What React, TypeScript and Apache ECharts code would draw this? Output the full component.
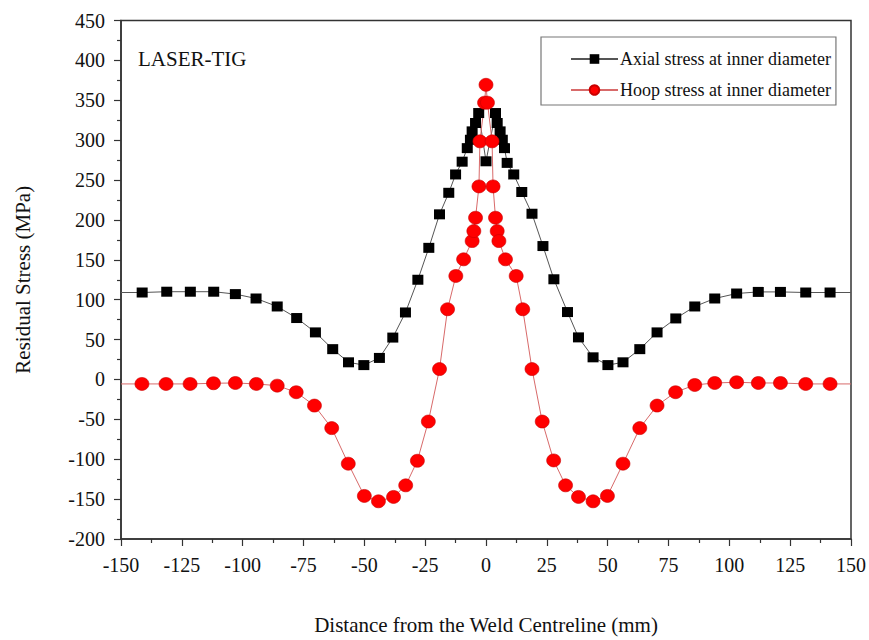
import React, { useEffect, useRef } from "react";
import * as echarts from "echarts";

const axialX = [-150, -141.3, -131.2, -121.5, -111.9, -103, -94.5, -85.8, -77.8, -70.1, -63, -56.5, -50.2, -43.8, -38.3, -33.1, -28, -23.5, -19.1, -15.3, -12.5, -9.8, -7.7, -6.4, -5.7, -4.3, -3, 0, 3.9, 4.6, 5.8, 6.7, 7.6, 8.7, 11.4, 14.7, 18.9, 23.4, 27.9, 33.5, 38, 44, 50.1, 56.3, 63.2, 70.3, 78, 85.8, 94, 103, 111.9, 121, 131.4, 141.4, 150];
const axialY = [109, 109, 110, 110, 110, 107, 101.5, 91.5, 77, 59, 38, 21.5, 18, 27, 52.5, 84, 125, 165, 207, 234, 257, 273, 290, 300.5, 311, 321.5, 334, 273.5, 334, 321.5, 311, 300.5, 290, 271.5, 257, 235, 207.75, 167.25, 125.6, 84.5, 52.75, 27.75, 18, 21.5, 38, 59, 76.5, 91.5, 101.5, 107.75, 109.75, 109.75, 109, 109, 109];

const hoopX = [-150, -141.4, -131.5, -121.6, -112, -103, -94.4, -85.8, -78, -70.5, -63.4, -56.6, -50, -44.2, -38, -33, -28.2, -23.7, -19.1, -15.8, -12.4, -9.2, -5.7, -5, -4.3, -2.9, -2.5, -0.6, 0, 0.6, 2.5, 2.9, 3.9, 4.6, 5.3, 8.0, 12.4, 15.1, 18.9, 23.1, 27.8, 32.7, 38, 44, 49.9, 56.3, 63.2, 70.3, 77.9, 85.8, 94, 103, 111.9, 121, 131.4, 141.4, 150];
const hoopY = [-5.6, -5.6, -5.6, -5.6, -4.75, -4.4, -5.6, -7.75, -16, -32.75, -61, -105.6, -146, -152.75, -147.25, -132.75, -101.9, -52.75, 13, 88, 129.75, 150.6, 173.5, 186, 202.75, 242, 298.5, 347, 369.4, 347, 298.5, 242, 202.75, 186, 173.5, 150.6, 129.75, 88, 13, -52.75, -101.5, -132.75, -147.25, -152.75, -146, -105.6, -61, -32.75, -16, -6.9, -4.4, -3.5, -4.4, -4.4, -5.6, -5.6, -5.6];

const xTicks = { min: -150, max: 150, interval: 25 };
const yTicks = { min: -200, max: 450, interval: 50 };

const seriesNames = ["Axial stress at inner diameter", "Hoop stress at inner diameter"];
const annotation = "LASER-TIG";
const xTitle = "Distance from the Weld Centreline (mm)";
const yTitle = "Residual Stress (MPa)";

const FONT = "'Liberation Serif', 'Times New Roman', serif";

function toData(xs: number[], ys: number[]) {
  return xs.map((x, i) => {
    const edge = i === 0 || i === xs.length - 1;
    return edge ? { value: [x, ys[i]], symbol: "none" } : { value: [x, ys[i]] };
  });
}

export default function App() {
  const ref = useRef<HTMLDivElement>(null);
  useEffect(() => {
    document.body.style.margin = "0";
    const chart = echarts.init(ref.current!, undefined, { renderer: "svg" });
    const axisCommon = {
      axisLine: { show: true, onZero: false, lineStyle: { color: "#333", width: 1.5 } },
      axisTick: { show: true, inside: false, length: 7, lineStyle: { color: "#333", width: 1.2 } },
      minorTick: { show: true, splitNumber: 2, length: 4, lineStyle: { color: "#333", width: 1.2 } },
      splitLine: { show: false },
      axisLabel: { color: "#111", fontFamily: FONT, fontSize: 20 },
      nameTextStyle: { color: "#111", fontFamily: FONT, fontSize: 21 },
    };
    chart.setOption({
      animation: false,
      backgroundColor: "#fff",
      grid: {
        left: 121,
        right: 18,
        top: 20.5,
        bottom: 99.5,
        show: true,
        borderColor: "#333",
        borderWidth: 1.5,
        backgroundColor: "transparent",
      },
      xAxis: {
        type: "value",
        ...xTicks,
        ...axisCommon,
        axisLabel: { ...axisCommon.axisLabel, margin: 16 },
        name: xTitle,
        nameLocation: "middle",
        nameGap: 75,
      },
      yAxis: {
        type: "value",
        ...yTicks,
        ...axisCommon,
        axisLabel: { ...axisCommon.axisLabel, margin: 16 },
        name: yTitle,
        nameLocation: "middle",
        nameRotate: 90,
        nameGap: 88,
      },
      legend: {
        orient: "vertical",
        left: 541,
        top: 37,
        padding: [13, 5, 6, 29],
        itemGap: 13,
        itemWidth: 47,
        itemHeight: 12,
        borderColor: "#777",
        borderWidth: 1.2,
        backgroundColor: "#fff",
        textStyle: { color: "#111", fontFamily: FONT, fontSize: 18, padding: [0, 0, 0, -3] },
        data: seriesNames,
      },
      graphic: [
        {
          type: "text",
          left: 138,
          top: 48,
          style: { text: annotation, fill: "#111", font: `21px ${FONT}` },
        },
      ],
      series: [
        {
          name: seriesNames[0],
          type: "line",
          data: toData(axialX, axialY),
          symbol: "rect",
          symbolSize: [11, 10],
          itemStyle: { color: "#000" },
          lineStyle: { color: "#555", width: 1 },
          clip: true,
        },
        {
          name: seriesNames[1],
          type: "line",
          data: toData(hoopX, hoopY),
          symbol: "circle",
          symbolSize: [14, 13],
          itemStyle: { color: "#ff0000", borderColor: "#c80000", borderWidth: 0.6 },
          lineStyle: { color: "#d86a6a", width: 1 },
          clip: true,
        },
      ],
    });
    return () => chart.dispose();
  }, []);
  return <div ref={ref} style={{ width: 869, height: 640, position: "absolute", left: 0, top: 0 }} />;
}
